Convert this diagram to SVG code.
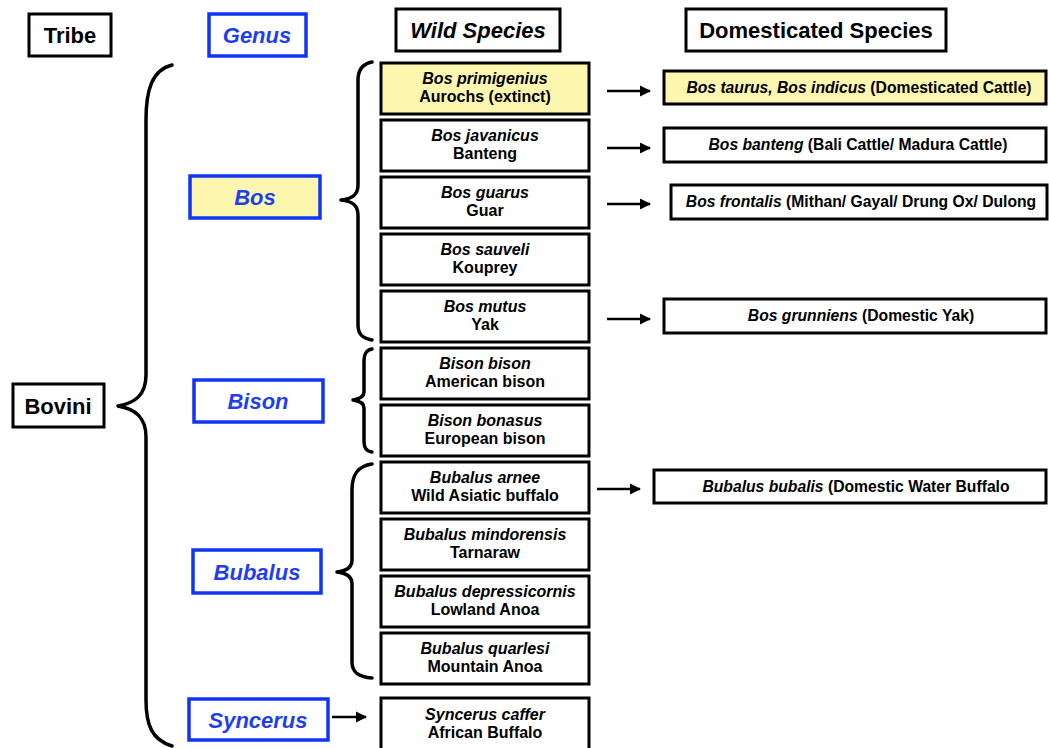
<svg xmlns="http://www.w3.org/2000/svg" width="1049" height="748" viewBox="0 0 1049 748">
<style>
text{font-family:"Liberation Sans",Arial,sans-serif;font-weight:bold;text-anchor:middle}
.hdr{font-size:22px;fill:#000}
.gen{font-size:22px;fill:#1f3fef;font-style:italic}
.sp{font-size:16px;fill:#000}
.dm{font-size:15.7px;fill:#000}
.it{font-style:italic}
.bk{fill:#fff;stroke:#000;stroke-width:3}
.bl{fill:#fff;stroke:#1234f5;stroke-width:3.5}
.yel{fill:#fdf6ae}
.br{fill:none;stroke:#000;stroke-width:3.5;stroke-linecap:round;stroke-linejoin:round}
.ar{stroke:#000;stroke-width:2.5;fill:none}
</style>
<defs>
<marker id="ah" viewBox="0 0 10 10" refX="9" refY="5" markerWidth="4.5" markerHeight="4.5" orient="auto" markerUnits="strokeWidth">
<path d="M0,0 L10,5 L0,10 z" fill="#000"/>
</marker>
</defs>
<rect width="1049" height="748" fill="#fff"/>

<g id="headers">
<g id="h-tribe"><rect class="bk" x="29" y="14" width="82" height="42"/><text class="hdr" x="70" y="43">Tribe</text></g>
<g id="h-genus"><rect class="bl" x="209" y="14" width="97" height="42"/><text class="gen" x="257" y="43">Genus</text></g>
<g id="h-wild"><rect class="bk" x="396" y="9" width="164" height="42"/><text class="hdr it" x="478" y="38">Wild Species</text></g>
<g id="h-dom"><rect class="bk" x="686" y="9" width="260" height="42"/><text class="hdr" x="816" y="38">Domesticated Species</text></g>
</g>

<g id="tribe-bovini"><rect class="bk" x="13" y="384" width="91" height="43"/><text class="hdr" x="58" y="414">Bovini</text></g>

<g id="genus-bos"><rect class="bl yel" x="190" y="176" width="130" height="42"/><text class="gen" x="255" y="205">Bos</text></g>
<g id="genus-bison"><rect class="bl" x="194" y="380" width="129" height="42"/><text class="gen" x="258" y="409">Bison</text></g>
<g id="genus-bubalus"><rect class="bl" x="193" y="550" width="128" height="43"/><text class="gen" x="257" y="580">Bubalus</text></g>
<g id="genus-syncerus"><rect class="bl" x="189" y="699" width="139" height="41"/><text class="gen" x="258" y="728">Syncerus</text></g>

<g id="wild-species">
<g id="sp-primigenius"><rect class="bk yel" x="381" y="63" width="208" height="51"/><text class="sp it" x="485" y="84">Bos primigenius</text><text class="sp" x="485" y="102">Aurochs (extinct)</text></g>
<g id="sp-javanicus"><rect class="bk" x="381" y="120" width="208" height="51"/><text class="sp it" x="485" y="141">Bos javanicus</text><text class="sp" x="485" y="159">Banteng</text></g>
<g id="sp-guarus"><rect class="bk" x="381" y="177" width="208" height="51"/><text class="sp it" x="485" y="198">Bos guarus</text><text class="sp" x="485" y="216">Guar</text></g>
<g id="sp-sauveli"><rect class="bk" x="381" y="234" width="208" height="51"/><text class="sp it" x="485" y="255">Bos sauveli</text><text class="sp" x="485" y="273">Kouprey</text></g>
<g id="sp-mutus"><rect class="bk" x="381" y="291" width="208" height="51"/><text class="sp it" x="485" y="312">Bos mutus</text><text class="sp" x="485" y="330">Yak</text></g>
<g id="sp-bison"><rect class="bk" x="381" y="348" width="208" height="51"/><text class="sp it" x="485" y="369">Bison bison</text><text class="sp" x="485" y="387">American bison</text></g>
<g id="sp-bonasus"><rect class="bk" x="381" y="405" width="208" height="51"/><text class="sp it" x="485" y="426">Bison bonasus</text><text class="sp" x="485" y="444">European bison</text></g>
<g id="sp-arnee"><rect class="bk" x="381" y="462" width="208" height="51"/><text class="sp it" x="485" y="483">Bubalus arnee</text><text class="sp" x="485" y="501">Wild Asiatic buffalo</text></g>
<g id="sp-mindorensis"><rect class="bk" x="381" y="519" width="208" height="51"/><text class="sp it" x="485" y="540">Bubalus mindorensis</text><text class="sp" x="485" y="558">Tarnaraw</text></g>
<g id="sp-depressicornis"><rect class="bk" x="381" y="576" width="208" height="51"/><text class="sp it" x="485" y="597">Bubalus depressicornis</text><text class="sp" x="485" y="615">Lowland Anoa</text></g>
<g id="sp-quarlesi"><rect class="bk" x="381" y="633" width="208" height="51"/><text class="sp it" x="485" y="654">Bubalus quarlesi</text><text class="sp" x="485" y="672">Mountain Anoa</text></g>
<g id="sp-caffer"><rect class="bk" x="381" y="698" width="208" height="56"/><text class="sp it" x="485" y="720">Syncerus caffer</text><text class="sp" x="485" y="738">African Buffalo</text></g>
</g>

<g id="domesticated">
<g id="dom-taurus"><rect class="bk yel" x="664" y="71" width="382" height="33"/><text class="dm" x="859" y="93"><tspan class="it">Bos taurus, Bos indicus</tspan> (Domesticated Cattle)</text></g>
<g id="dom-banteng"><rect class="bk" x="664" y="128" width="382" height="34"/><text class="dm" x="858" y="150"><tspan class="it">Bos banteng</tspan> (Bali Cattle/ Madura Cattle)</text></g>
<g id="dom-frontalis"><rect class="bk" x="671" y="185" width="376" height="34"/><text class="dm" x="861" y="207"><tspan class="it">Bos frontalis</tspan> (Mithan/ Gayal/ Drung Ox/ Dulong</text></g>
<g id="dom-grunniens"><rect class="bk" x="664" y="299" width="382" height="34"/><text class="dm" x="861" y="321"><tspan class="it">Bos grunniens</tspan> (Domestic Yak)</text></g>
<g id="dom-bubalis"><rect class="bk" x="654" y="470" width="392" height="33"/><text class="dm" x="856" y="492"><tspan class="it">Bubalus bubalis</tspan> (Domestic Water Buffalo</text></g>
</g>

<g id="connectors">
<path class="br" d="M172,65 C152,70 146,90 146,120 L146,375 C146,395 135,403 118,406 C135,409 146,417 146,437 L146,700 C146,725 152,740 172,746"/>
<path class="br" d="M372,62 C362,64 358,70 358,80 L358,185 C358,195 352,199 341,200 C352,201 358,205 358,215 L358,325 C358,334 362,338 372,340"/>
<path class="br" d="M372,349 C366,350 364,354 364,362 L364,392 C364,397 360,399 353,400 C360,401 364,403 364,408 L364,440 C364,448 366,451 372,452"/>
<path class="br" d="M372,464 C358,466 352,474 352,490 L352,560 C352,568 346,571 337,572 C346,573 352,576 352,584 L352,662 C352,672 358,677 372,678"/>
<line class="ar" x1="607" y1="91" x2="650" y2="91" marker-end="url(#ah)"/>
<line class="ar" x1="607" y1="148" x2="650" y2="148" marker-end="url(#ah)"/>
<line class="ar" x1="607" y1="204" x2="650" y2="204" marker-end="url(#ah)"/>
<line class="ar" x1="607" y1="319" x2="650" y2="319" marker-end="url(#ah)"/>
<line class="ar" x1="597" y1="489" x2="640" y2="489" marker-end="url(#ah)"/>
<line class="ar" x1="332" y1="717" x2="366" y2="717" marker-end="url(#ah)"/>
</g>
</svg>
